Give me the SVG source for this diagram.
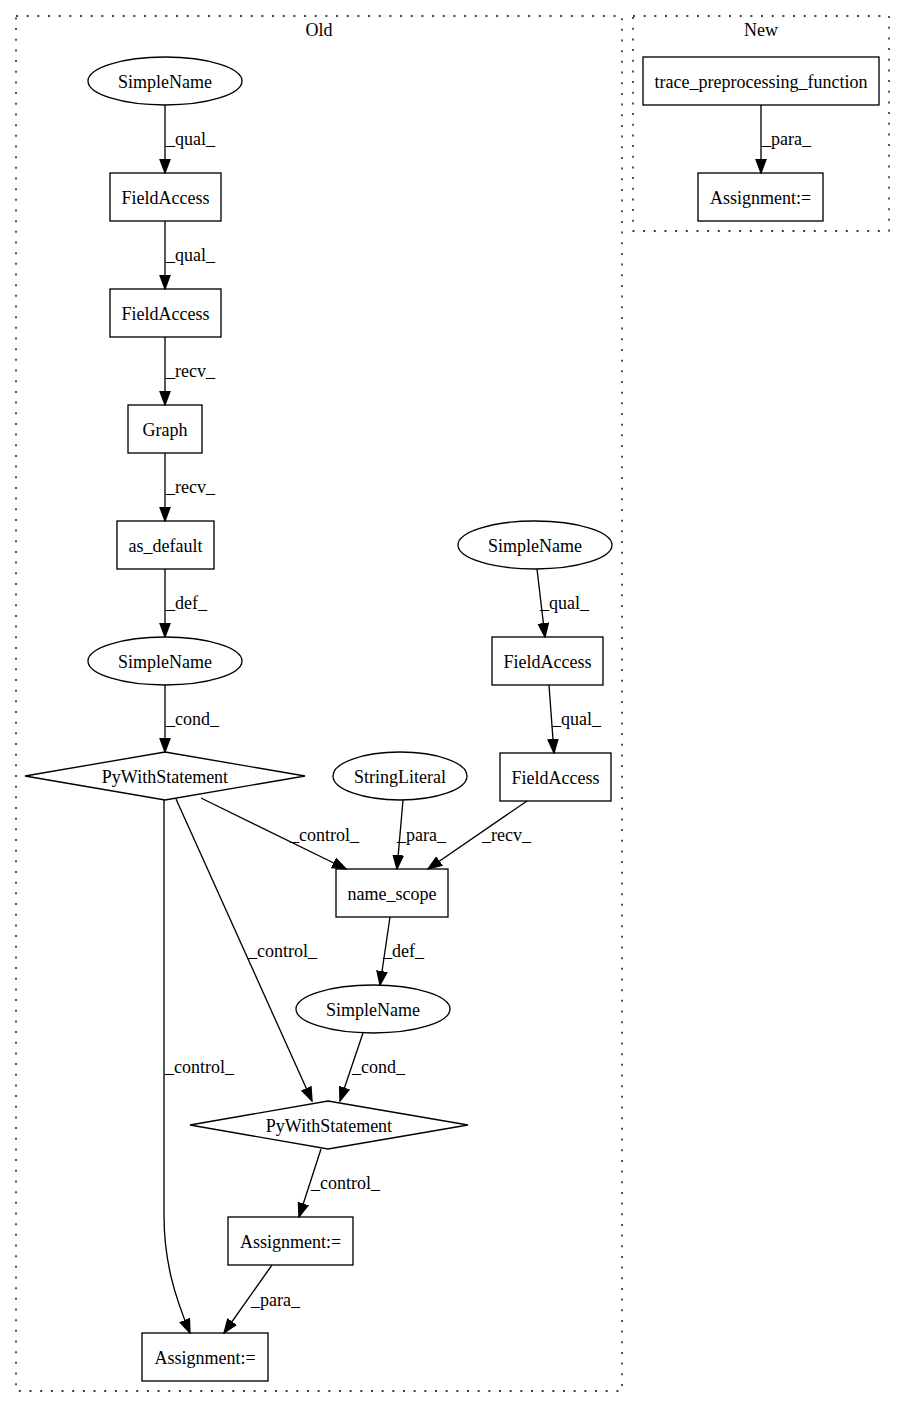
<svg xmlns="http://www.w3.org/2000/svg" width="905" height="1408" viewBox="0 0 905 1408">
<style>
text{font-family:"Liberation Serif","Times New Roman",serif;font-size:18px;fill:#000}
.n{text-anchor:middle}
.shape{fill:none;stroke:#000;stroke-width:1.33}
.cluster{fill:none;stroke:#000;stroke-width:1.33;stroke-dasharray:2,8.67}
.e{fill:none;stroke:#000;stroke-width:1.33;marker-end:url(#arr)}
</style>
<defs>
<marker id="arr" markerUnits="userSpaceOnUse" markerWidth="15" markerHeight="12" refX="14" refY="6" orient="auto">
<path d="M0.5,1 L14,6 L0.5,11 z" fill="#000" stroke="#000" stroke-width="1.33"/>
</marker>
</defs>
<rect width="905" height="1408" fill="#fff"/>
<g id="cluster-old">
<rect class="cluster" x="16" y="16" width="606" height="1375"/>
<text class="n" x="319" y="36">Old</text>
</g>
<g id="cluster-new">
<rect class="cluster" x="633" y="16" width="256" height="215"/>
<text class="n" x="761" y="36">New</text>
</g>
<g id="edges">
<path class="e" d="M165,105 L165,173"/><text x="166" y="145">_qual_</text>
<path class="e" d="M165,221 L165,289"/><text x="166" y="261">_qual_</text>
<path class="e" d="M165,337 L165,405"/><text x="166" y="377">_recv_</text>
<path class="e" d="M165,453 L165,521"/><text x="166" y="493">_recv_</text>
<path class="e" d="M165,569 L165,637"/><text x="166" y="609">_def_</text>
<path class="e" d="M165,685 L165,752"/><text x="166" y="725">_cond_</text>
<path class="e" d="M537,569 L545,637"/><text x="540" y="609">_qual_</text>
<path class="e" d="M549,685 L554,753"/><text x="552" y="725">_qual_</text>
<path class="e" d="M201,798 L346,869"/><text x="290" y="841">_control_</text>
<path class="e" d="M403,800 L397,869"/><text x="397" y="841">_para_</text>
<path class="e" d="M527,801 L428,869"/><text x="482" y="841">_recv_</text>
<path class="e" d="M390,917 L380,985"/><text x="383" y="957">_def_</text>
<path class="e" d="M176,799 L312,1101"/><text x="248" y="957">_control_</text>
<path class="e" d="M363,1033 L340,1101"/><text x="352" y="1073">_cond_</text>
<path class="e" d="M164,800 L164,1215 C164,1262 175,1297 190,1333"/><text x="165" y="1073">_control_</text>
<path class="e" d="M321,1149 L299,1217"/><text x="311" y="1189">_control_</text>
<path class="e" d="M272,1265 L224,1333"/><text x="251" y="1306">_para_</text>
<path class="e" d="M761,105 L761,173"/><text x="762" y="145">_para_</text>
</g>
<g id="n-simplename1"><ellipse class="shape" cx="165" cy="81" rx="77" ry="24"/><text class="n" x="165" y="87.5">SimpleName</text></g>
<g id="n-fieldaccess1"><rect class="shape" x="110" y="173" width="111" height="48"/><text class="n" x="165.5" y="203.5">FieldAccess</text></g>
<g id="n-fieldaccess2"><rect class="shape" x="110" y="289" width="111" height="48"/><text class="n" x="165.5" y="319.5">FieldAccess</text></g>
<g id="n-graph"><rect class="shape" x="128" y="405" width="74" height="48"/><text class="n" x="165" y="435.5">Graph</text></g>
<g id="n-asdefault"><rect class="shape" x="117" y="521" width="97" height="48"/><text class="n" x="165.5" y="551.5">as_default</text></g>
<g id="n-simplename2"><ellipse class="shape" cx="165" cy="661" rx="77" ry="24"/><text class="n" x="165" y="667.5">SimpleName</text></g>
<g id="n-pywith1"><polygon class="shape" points="165,752 305,776 165,800 25,776"/><text class="n" x="165" y="782.5">PyWithStatement</text></g>
<g id="n-stringliteral"><ellipse class="shape" cx="400" cy="776" rx="67" ry="24"/><text class="n" x="400" y="782.5">StringLiteral</text></g>
<g id="n-simplename3"><ellipse class="shape" cx="535" cy="545" rx="77" ry="24"/><text class="n" x="535" y="551.5">SimpleName</text></g>
<g id="n-fieldaccess3"><rect class="shape" x="492" y="637" width="111" height="48"/><text class="n" x="547.5" y="667.5">FieldAccess</text></g>
<g id="n-fieldaccess4"><rect class="shape" x="500" y="753" width="111" height="48"/><text class="n" x="555.5" y="783.5">FieldAccess</text></g>
<g id="n-namescope"><rect class="shape" x="336" y="869" width="112" height="48"/><text class="n" x="392" y="899.5">name_scope</text></g>
<g id="n-simplename4"><ellipse class="shape" cx="373" cy="1009" rx="77" ry="24"/><text class="n" x="373" y="1015.5">SimpleName</text></g>
<g id="n-pywith2"><polygon class="shape" points="328,1101 468,1125 328,1149 190,1125"/><text class="n" x="329" y="1131.5">PyWithStatement</text></g>
<g id="n-assignment1"><rect class="shape" x="228" y="1217" width="125" height="48"/><text class="n" x="290.5" y="1247.5">Assignment:=</text></g>
<g id="n-assignment2"><rect class="shape" x="142" y="1333" width="126" height="48"/><text class="n" x="205" y="1363.5">Assignment:=</text></g>
<g id="n-trace"><rect class="shape" x="643" y="57" width="236" height="48"/><text class="n" x="761" y="87.5">trace_preprocessing_function</text></g>
<g id="n-assignment-new"><rect class="shape" x="698" y="173" width="125" height="48"/><text class="n" x="760.5" y="203.5">Assignment:=</text></g>
</svg>
